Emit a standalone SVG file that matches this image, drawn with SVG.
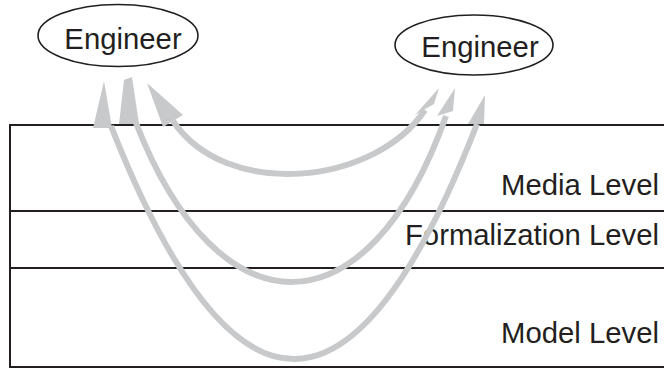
<svg xmlns="http://www.w3.org/2000/svg" width="664" height="369" viewBox="0 0 664 369">
  <style>
    .frame { stroke: #231f20; stroke-width: 2; fill: none; }
    .node ellipse { fill: #ffffff; stroke: #231f20; stroke-width: 1.6; }
    .label { font-family: "Liberation Sans", Arial, sans-serif; font-size: 29.3px; fill: #231f20; }
    .flow { fill: none; stroke: #c8c9ca; stroke-width: 6; }
    .head { fill: #c8c9ca; stroke: none; }
  </style>

  <!-- layered frame: open on the right -->
  <g id="layers">
    <path class="frame" d="M664,125 H10 V367 H664"/>
    <line class="frame" x1="10" y1="211" x2="664" y2="211"/>
    <line class="frame" x1="10" y1="268" x2="664" y2="268"/>
    <text class="label" x="659" y="195" text-anchor="end">Media Level</text>
    <text class="label" x="659" y="245" text-anchor="end">Formalization Level</text>
    <text class="label" x="659" y="343" text-anchor="end">Model Level</text>
  </g>

  <g id="engineer-left" class="node">
    <ellipse cx="118" cy="35.5" rx="80" ry="31"/>
    <text class="label" x="123" y="48.5" text-anchor="middle">Engineer</text>
  </g>

  <g id="engineer-right" class="node">
    <ellipse cx="474" cy="45" rx="79" ry="30"/>
    <text class="label" x="480" y="57" text-anchor="middle">Engineer</text>
  </g>

  <!-- round trips between the two engineers through each level -->
  <g id="connectors">
    <path class="flow" d="M173,121 C226,200 374,186 425,110"/>
    <path class="flow" d="M136,123 C219,336 368,336 446,116"/>
    <path class="flow" d="M111,126 Q295,593 477,124"/>

    <polygon class="head" points="147,83 163,127 183,115"/>
    <polygon class="head" points="124,80 132,77 139,124 119,124"/>
    <polygon class="head" points="104,81 93,128 112,128"/>

    <polygon class="head" points="439,88 415,115 434,104"/>
    <polygon class="head" points="455,88 437,116 453,111"/>
    <polygon class="head" points="485,95 468,124 484,124"/>
  </g>
</svg>
